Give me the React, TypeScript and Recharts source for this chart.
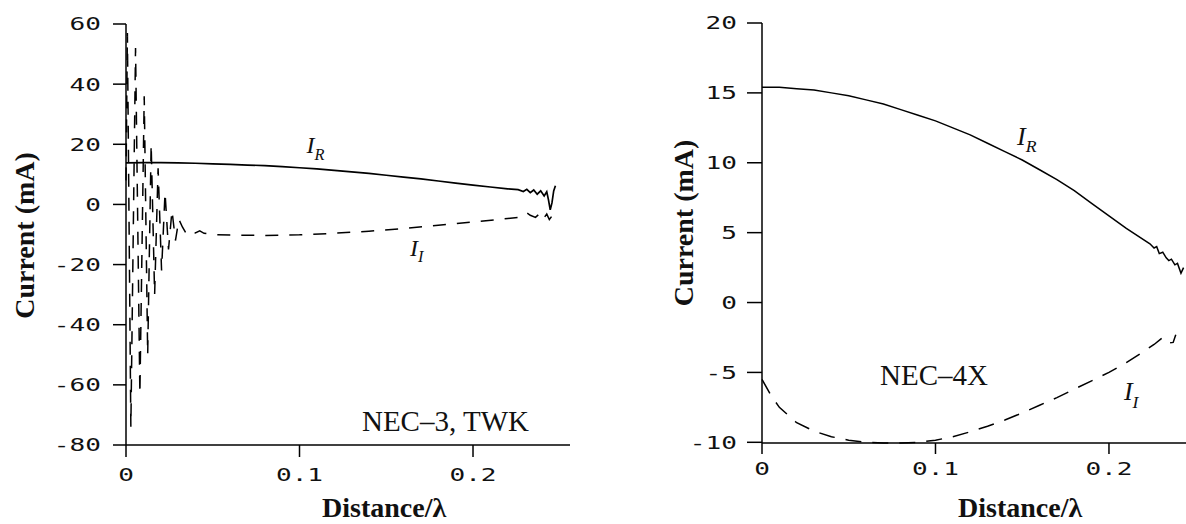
import React from 'react';
import { LineChart, Line, XAxis, YAxis, ReferenceDot } from 'recharts';

type Pt = [number, number];

// NEC-3 (TWK) panel: distance in wavelengths, current in mA
const nec3Real: Pt[] = [
  [0, 13.8], [0.01, 13.9], [0.02, 13.9], [0.03, 13.8], [0.04, 13.7], [0.05, 13.5],
  [0.06, 13.3], [0.07, 13.1], [0.08, 12.9], [0.09, 12.6], [0.1, 12.2], [0.11, 11.8],
  [0.12, 11.3], [0.13, 10.8], [0.14, 10.3], [0.15, 9.7], [0.16, 9.1], [0.17, 8.5],
  [0.18, 7.8], [0.19, 7.1], [0.2, 6.4], [0.21, 5.8], [0.22, 5.2], [0.226, 4.9],
  [0.229, 4.3], [0.231, 5.0], [0.233, 3.9], [0.235, 4.8], [0.237, 3.4], [0.239, 4.5],
  [0.241, 2.8], [0.2425, 4.2], [0.2435, 1.5], [0.2445, -1.8], [0.2455, 0.5],
  [0.2465, 4.5], [0.2475, 6.2],
];

const nec3Imag: Pt[] = [
  [0, 8], [0.0008, 57], [0.0028, -74], [0.0055, 52], [0.008, -63], [0.0105, 36],
  [0.0125, -50], [0.0145, 20], [0.0165, -30], [0.0185, 12], [0.0205, -22], [0.0225, 4],
  [0.0245, -15], [0.0265, -2], [0.0285, -12], [0.0305, -5], [0.0325, -7.5],
  [0.0345, -9.5], [0.037, -8.5], [0.04, -9.5], [0.0425, -8.8], [0.045, -9.6],
  [0.05, -10], [0.06, -10.2], [0.08, -10.3], [0.1, -10.1], [0.12, -9.6], [0.14, -8.9],
  [0.16, -8.0], [0.18, -6.9], [0.2, -5.8], [0.22, -4.7], [0.226, -4.3], [0.229, -3.6],
  [0.231, -2.8], [0.233, -3.6], [0.236, -4.3], [0.2385, -3.0], [0.2405, -4.8],
  [0.2425, -3.2], [0.244, -5.0], [0.246, -3.5], [0.2475, -5.0],
];

// NEC-4X panel
const nec4Real: Pt[] = [
  [0, 15.4], [0.01, 15.4], [0.02, 15.3], [0.03, 15.2], [0.04, 15.0], [0.05, 14.8],
  [0.06, 14.5], [0.07, 14.2], [0.08, 13.8], [0.09, 13.4], [0.1, 13.0], [0.11, 12.5],
  [0.12, 12.0], [0.13, 11.4], [0.14, 10.8], [0.15, 10.2], [0.16, 9.5], [0.17, 8.8],
  [0.18, 8.0], [0.19, 7.1], [0.2, 6.2], [0.21, 5.3], [0.2236, 4.2], [0.226, 3.9],
  [0.2275, 4.0], [0.229, 3.5], [0.231, 3.6], [0.233, 3.2], [0.2345, 3.0], [0.236, 3.1],
  [0.238, 2.7], [0.2395, 2.8], [0.2415, 2.1], [0.243, 2.5],
];

const nec4Imag: Pt[] = [
  [0, -5.5], [0.005, -6.6], [0.01, -7.5], [0.02, -8.6], [0.03, -9.2], [0.04, -9.6],
  [0.05, -9.85], [0.06, -10.0], [0.07, -10.05], [0.08, -10.05], [0.09, -10.0],
  [0.1, -9.85], [0.11, -9.6], [0.12, -9.25], [0.13, -8.85], [0.14, -8.4], [0.15, -7.9],
  [0.16, -7.35], [0.17, -6.8], [0.18, -6.2], [0.19, -5.6], [0.2, -5.0], [0.21, -4.3],
  [0.22, -3.5], [0.226, -3.0], [0.231, -2.5], [0.2345, -2.9], [0.237, -2.85],
  [0.2385, -2.3],
];

const nec3CurrentTicks = [-80, -60, -40, -20, 0, 20, 40, 60];
const nec4CurrentTicks = [-10, -5, 0, 5, 10, 15, 20];
const distanceTicks = [0, 0.1, 0.2];

const toRows = (pts: Pt[]) => pts.map(([x, y]) => ({ x, y }));

const fmt = (v: number) => (v === 0 ? '0' : String(v));

const monoTick = (vertical: boolean) => (p: any) => (
  <g transform={`translate(${p.x},${p.y})`}>
    <text
      transform="scale(1.45,1)"
      textAnchor={p.textAnchor}
      dy={vertical ? '0.36em' : '0.71em'}
      fontFamily="'DejaVu Sans Mono', monospace"
      fontSize={18}
      fill="#111"
    >
      {fmt(p.payload.value)}
    </text>
  </g>
);

const vbOf = (props: any) => props.viewBox || props;

const curveLabel = (sub: string, size: number) => (props: any) => {
  const vb = vbOf(props);
  return (
    <text x={vb.x} y={vb.y} fontFamily="'Liberation Serif', serif" fontStyle="italic" fontSize={size} fill="#111">
      I
      <tspan fontSize={size * 0.68} dy={size * 0.28}>{sub}</tspan>
    </text>
  );
};

const plainLabel = (text: string, size: number) => (props: any) => {
  const vb = vbOf(props);
  return (
    <text x={vb.x} y={vb.y} fontFamily="'Liberation Serif', serif" fontSize={size} fill="#111">
      {text}
    </text>
  );
};

const yTitle = (dx: number, dy: number) => (props: any) => {
  const vb = vbOf(props);
  const cx = vb.x + dx;
  const cy = vb.y + vb.height / 2 + dy;
  return (
    <text
      transform={`translate(${cx},${cy}) rotate(-90)`}
      textAnchor="middle"
      fontFamily="'Liberation Serif', serif"
      fontWeight="bold"
      fontSize={28}
      fill="#111"
    >
      Current (mA)
    </text>
  );
};

const xTitle = (dx: number, dy: number) => (props: any) => {
  const vb = vbOf(props);
  return (
    <text x={vb.x + dx} y={vb.y + dy} fontFamily="'Liberation Serif', serif" fontWeight="bold" fontSize={28} fill="#111">
      Distance/λ
    </text>
  );
};

const axisStroke = { stroke: '#000', strokeWidth: 1.5 };

export default function App() {
  return (
    <div style={{ position: 'absolute', left: 0, top: 0, width: 1186, height: 524, background: '#fff', overflow: 'hidden' }}>
      <div style={{ position: 'absolute', left: 0, top: 0 }}>
        <LineChart width={600} height={524} margin={{ top: 24, right: 30, bottom: 0, left: 0 }}>
          <XAxis
            dataKey="x"
            type="number"
            domain={[0, 0.2559]}
            ticks={distanceTicks}
            interval={0}
            height={79}
            tickSize={12}
            tickMargin={11}
            axisLine={axisStroke}
            tickLine={axisStroke}
            tick={monoTick(false)}
            label={xTitle(196, 72)}
          />
          <YAxis
            type="number"
            domain={[-80, 60]}
            ticks={nec3CurrentTicks}
            interval={0}
            width={126}
            tickSize={13}
            tickMargin={12}
            axisLine={axisStroke}
            tickLine={axisStroke}
            tick={monoTick(true)}
            label={yTitle(34, 1)}
          />
          <Line data={toRows(nec3Real)} dataKey="y" type="linear" dot={false} stroke="#000" strokeWidth={1.7} isAnimationActive={false} />
          <Line data={toRows(nec3Imag)} dataKey="y" type="linear" dot={false} stroke="#000" strokeWidth={1.5} strokeDasharray="13 11" isAnimationActive={false} />
          <ReferenceDot x={0.104} y={17} r={0} fill="none" stroke="none" label={curveLabel('R', 24)} />
          <ReferenceDot x={0.1637} y={-17} r={0} fill="none" stroke="none" label={curveLabel('I', 24)} />
          <ReferenceDot x={0.136} y={-75.3} r={0} fill="none" stroke="none" label={plainLabel('NEC–3, TWK', 29)} />
        </LineChart>
      </div>
      <div style={{ position: 'absolute', left: 600, top: 0 }}>
        <LineChart width={586} height={524} margin={{ top: 23, right: 0, bottom: 0, left: 0 }}>
          <XAxis
            dataKey="x"
            type="number"
            domain={[0, 0.2444]}
            ticks={distanceTicks}
            interval={0}
            height={81}
            tickSize={11}
            tickMargin={8}
            axisLine={axisStroke}
            tickLine={axisStroke}
            tick={monoTick(false)}
            label={xTitle(196, 74)}
          />
          <YAxis
            type="number"
            domain={[-10, 20]}
            ticks={nec4CurrentTicks}
            interval={0}
            width={162}
            tickSize={15}
            tickMargin={10}
            axisLine={axisStroke}
            tickLine={axisStroke}
            tick={monoTick(true)}
            label={yTitle(93, -10)}
          />
          <Line data={toRows(nec4Real)} dataKey="y" type="linear" dot={false} stroke="#000" strokeWidth={1.5} isAnimationActive={false} />
          <Line data={toRows(nec4Imag)} dataKey="y" type="linear" dot={false} stroke="#000" strokeWidth={1.5} strokeDasharray="16 11" isAnimationActive={false} />
          <ReferenceDot x={0.147} y={11.3} r={0} fill="none" stroke="none" label={curveLabel('R', 26)} />
          <ReferenceDot x={0.2086} y={-7.0} r={0} fill="none" stroke="none" label={curveLabel('I', 26)} />
          <ReferenceDot x={0.068} y={-5.9} r={0} fill="none" stroke="none" label={plainLabel('NEC–4X', 29)} />
        </LineChart>
      </div>
    </div>
  );
}
